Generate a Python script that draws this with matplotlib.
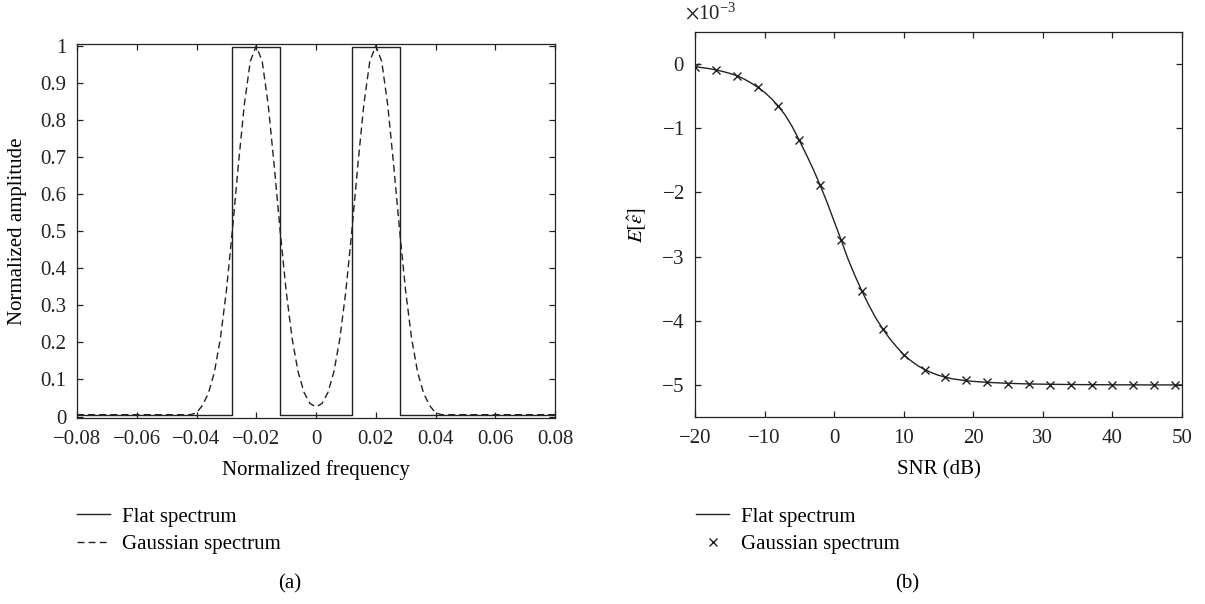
import matplotlib.pyplot as plt
from matplotlib.ticker import ScalarFormatter
import numpy as np

plt.rcParams['font.family'] = ['Liberation Serif', 'DejaVu Serif']
plt.rcParams['mathtext.fontset'] = 'stix'
plt.rcParams['font.size'] = 15

# (a) spectra
flat_f = [-0.08, -0.028, -0.028, -0.012, -0.012, 0.012, 0.012, 0.028, 0.028, 0.08]
flat_amp = [0.003, 0.003, 0.997, 0.997, 0.003, 0.003, 0.997, 0.997, 0.003, 0.003]

gauss_f = [-0.08, -0.042, -0.040, -0.038, -0.036, -0.034, -0.032, -0.030, -0.028,
           -0.026, -0.024, -0.022, -0.020, -0.018, -0.016, -0.014, -0.012,
           -0.010, -0.008, -0.006, -0.004, -0.002, 0.0,
           0.002, 0.004, 0.006, 0.008, 0.010, 0.012, 0.014, 0.016, 0.018,
           0.020, 0.022, 0.024, 0.026, 0.028, 0.030, 0.032, 0.034, 0.036,
           0.038, 0.040, 0.042, 0.08]
gauss_amp = [0.005, 0.005, 0.010, 0.030, 0.063, 0.120, 0.211, 0.339, 0.501,
             0.678, 0.841, 0.958, 1.000, 0.958, 0.841, 0.678, 0.501,
             0.339, 0.211, 0.121, 0.065, 0.035, 0.026,
             0.035, 0.065, 0.121, 0.211, 0.339, 0.501, 0.678, 0.841, 0.958,
             1.000, 0.958, 0.841, 0.678, 0.501, 0.339, 0.211, 0.120, 0.063,
             0.030, 0.010, 0.005, 0.005]

# (b) mean error vs SNR (units of 1e-3)
snr_line = [-20, -19, -18, -17, -16, -15, -14, -13, -12, -11, -10, -9, -8, -7, -6,
            -5, -4, -3, -2, -1, 0, 1, 2, 3, 4, 5, 6, 7, 8, 9, 10, 11, 12, 13, 14,
            15, 16, 17, 18, 19, 20, 22, 25, 28, 31, 35, 40, 45, 50]
err_line = [-0.04, -0.055, -0.07, -0.09, -0.115, -0.145, -0.18, -0.23, -0.29,
            -0.36, -0.44, -0.54, -0.66, -0.80, -0.98, -1.19, -1.41, -1.64, -1.89,
            -2.16, -2.45, -2.74, -3.04, -3.30, -3.54, -3.76, -3.96, -4.13, -4.28,
            -4.41, -4.53, -4.62, -4.70, -4.76, -4.81, -4.85, -4.88, -4.905, -4.92,
            -4.935, -4.945, -4.96, -4.975, -4.985, -4.99, -4.995, -4.998, -5.0, -5.0]

snr_mark = [-20, -17, -14, -11, -8, -5, -2, 1, 4, 7, 10, 13, 16, 19, 22, 25, 28,
            31, 34, 37, 40, 43, 46, 49]
err_mark = [-0.04, -0.09, -0.18, -0.36, -0.66, -1.19, -1.89, -2.74, -3.54, -4.13,
            -4.53, -4.76, -4.88, -4.93, -4.96, -4.98, -4.99, -4.995, -5.0, -5.0,
            -5.0, -5.0, -5.0, -5.0]

ink = '#222222'
fig = plt.figure(figsize=(12.05, 6.04), dpi=100)
W, H = 1205, 604
ax1 = fig.add_axes([77 / W, 1 - 418 / H, (555 - 77) / W, (418 - 44) / H])
ax2 = fig.add_axes([695 / W, 1 - 417 / H, (1182 - 695) / W, (417 - 32) / H])

ax1.plot(flat_f, flat_amp, color=ink, lw=1.0, label='Flat spectrum')
ax1.plot(gauss_f, gauss_amp, color=ink, lw=1.0, ls=(0, (5, 3)),
         label='Gaussian spectrum')
ax1.set_xlim(-0.08, 0.08)
ax1.set_ylim(-0.004, 1.005)
ax1.set_xticks(np.arange(-0.08, 0.081, 0.02))
ax1.set_xticklabels(['\u22120.08', '\u22120.06', '\u22120.04', '\u22120.02', '0',
                     '0.02', '0.04', '0.06', '0.08'])
ax1.set_yticks(np.arange(0, 1.01, 0.1))
ax1.set_yticklabels(['0', '0.1', '0.2', '0.3', '0.4', '0.5', '0.6', '0.7',
                     '0.8', '0.9', '1'])
ax1.set_xlabel('Normalized frequency', fontsize=15)
ax1.set_ylabel('Normalized amplitude', fontsize=15)
ax1.xaxis.set_label_coords(0.5, -0.112)
ax1.yaxis.set_label_coords(-0.105, 0.5)

ax2.plot(np.array(snr_line), np.array(err_line) * 1e-3, color=ink, lw=1.0,
         label='Flat spectrum')
ax2.plot(np.array(snr_mark), np.array(err_mark) * 1e-3, ls='none', marker='x',
         ms=6, mew=1.0, color=ink, label='Gaussian spectrum')
ax2.set_xlim(-20, 50)
ax2.set_ylim(-5.5e-3, 0.5e-3)
ax2.set_xticks(np.arange(-20, 51, 10))
ax2.set_yticks(np.arange(-5, 0.1, 1) * 1e-3)
fmt = ScalarFormatter(useMathText=True)
fmt.set_powerlimits((-2, 2))
ax2.yaxis.set_major_formatter(fmt)
ax2.yaxis.get_offset_text().set_visible(False)
ax2.set_xlabel('SNR (dB)', fontsize=15)
ax2.set_ylabel(r'$E[\hat{\varepsilon}]$', fontsize=15)
ax2.xaxis.set_label_coords(0.5, -0.112)
ax2.yaxis.set_label_coords(-0.097, 0.5)

for ax in (ax1, ax2):
    ax.tick_params(direction='in', top=True, right=True, length=4, width=0.9,
                   labelsize=15, colors=ink)
    ax.tick_params(axis='x', pad=8.5)
    ax.tick_params(axis='y', pad=7.5)
    for s in ax.spines.values():
        s.set_linewidth(0.9)
        s.set_color(ink)

leg_kw = dict(loc='upper left', frameon=False, fontsize=15, handlelength=1.6,
              handletextpad=0.55, labelspacing=0.4, borderaxespad=0, borderpad=0)
fig.legend(*ax1.get_legend_handles_labels(),
           bbox_to_anchor=(77 / W, 1 - 507 / H), **leg_kw)
fig.legend(*ax2.get_legend_handles_labels(),
           bbox_to_anchor=(696 / W, 1 - 507 / H), **leg_kw)

fig.text(685 / W, 1 - 14 / H, r'$\times\mathdefault{10^{-3}}$', ha='left',
         va='center', fontsize=15, color=ink)
fig.text(290 / W, 1 - 584 / H, '(a)', ha='center', va='center', fontsize=15)
fig.text(907 / W, 1 - 584 / H, '(b)', ha='center', va='center', fontsize=15)

fig.savefig('out.png', dpi=100)
